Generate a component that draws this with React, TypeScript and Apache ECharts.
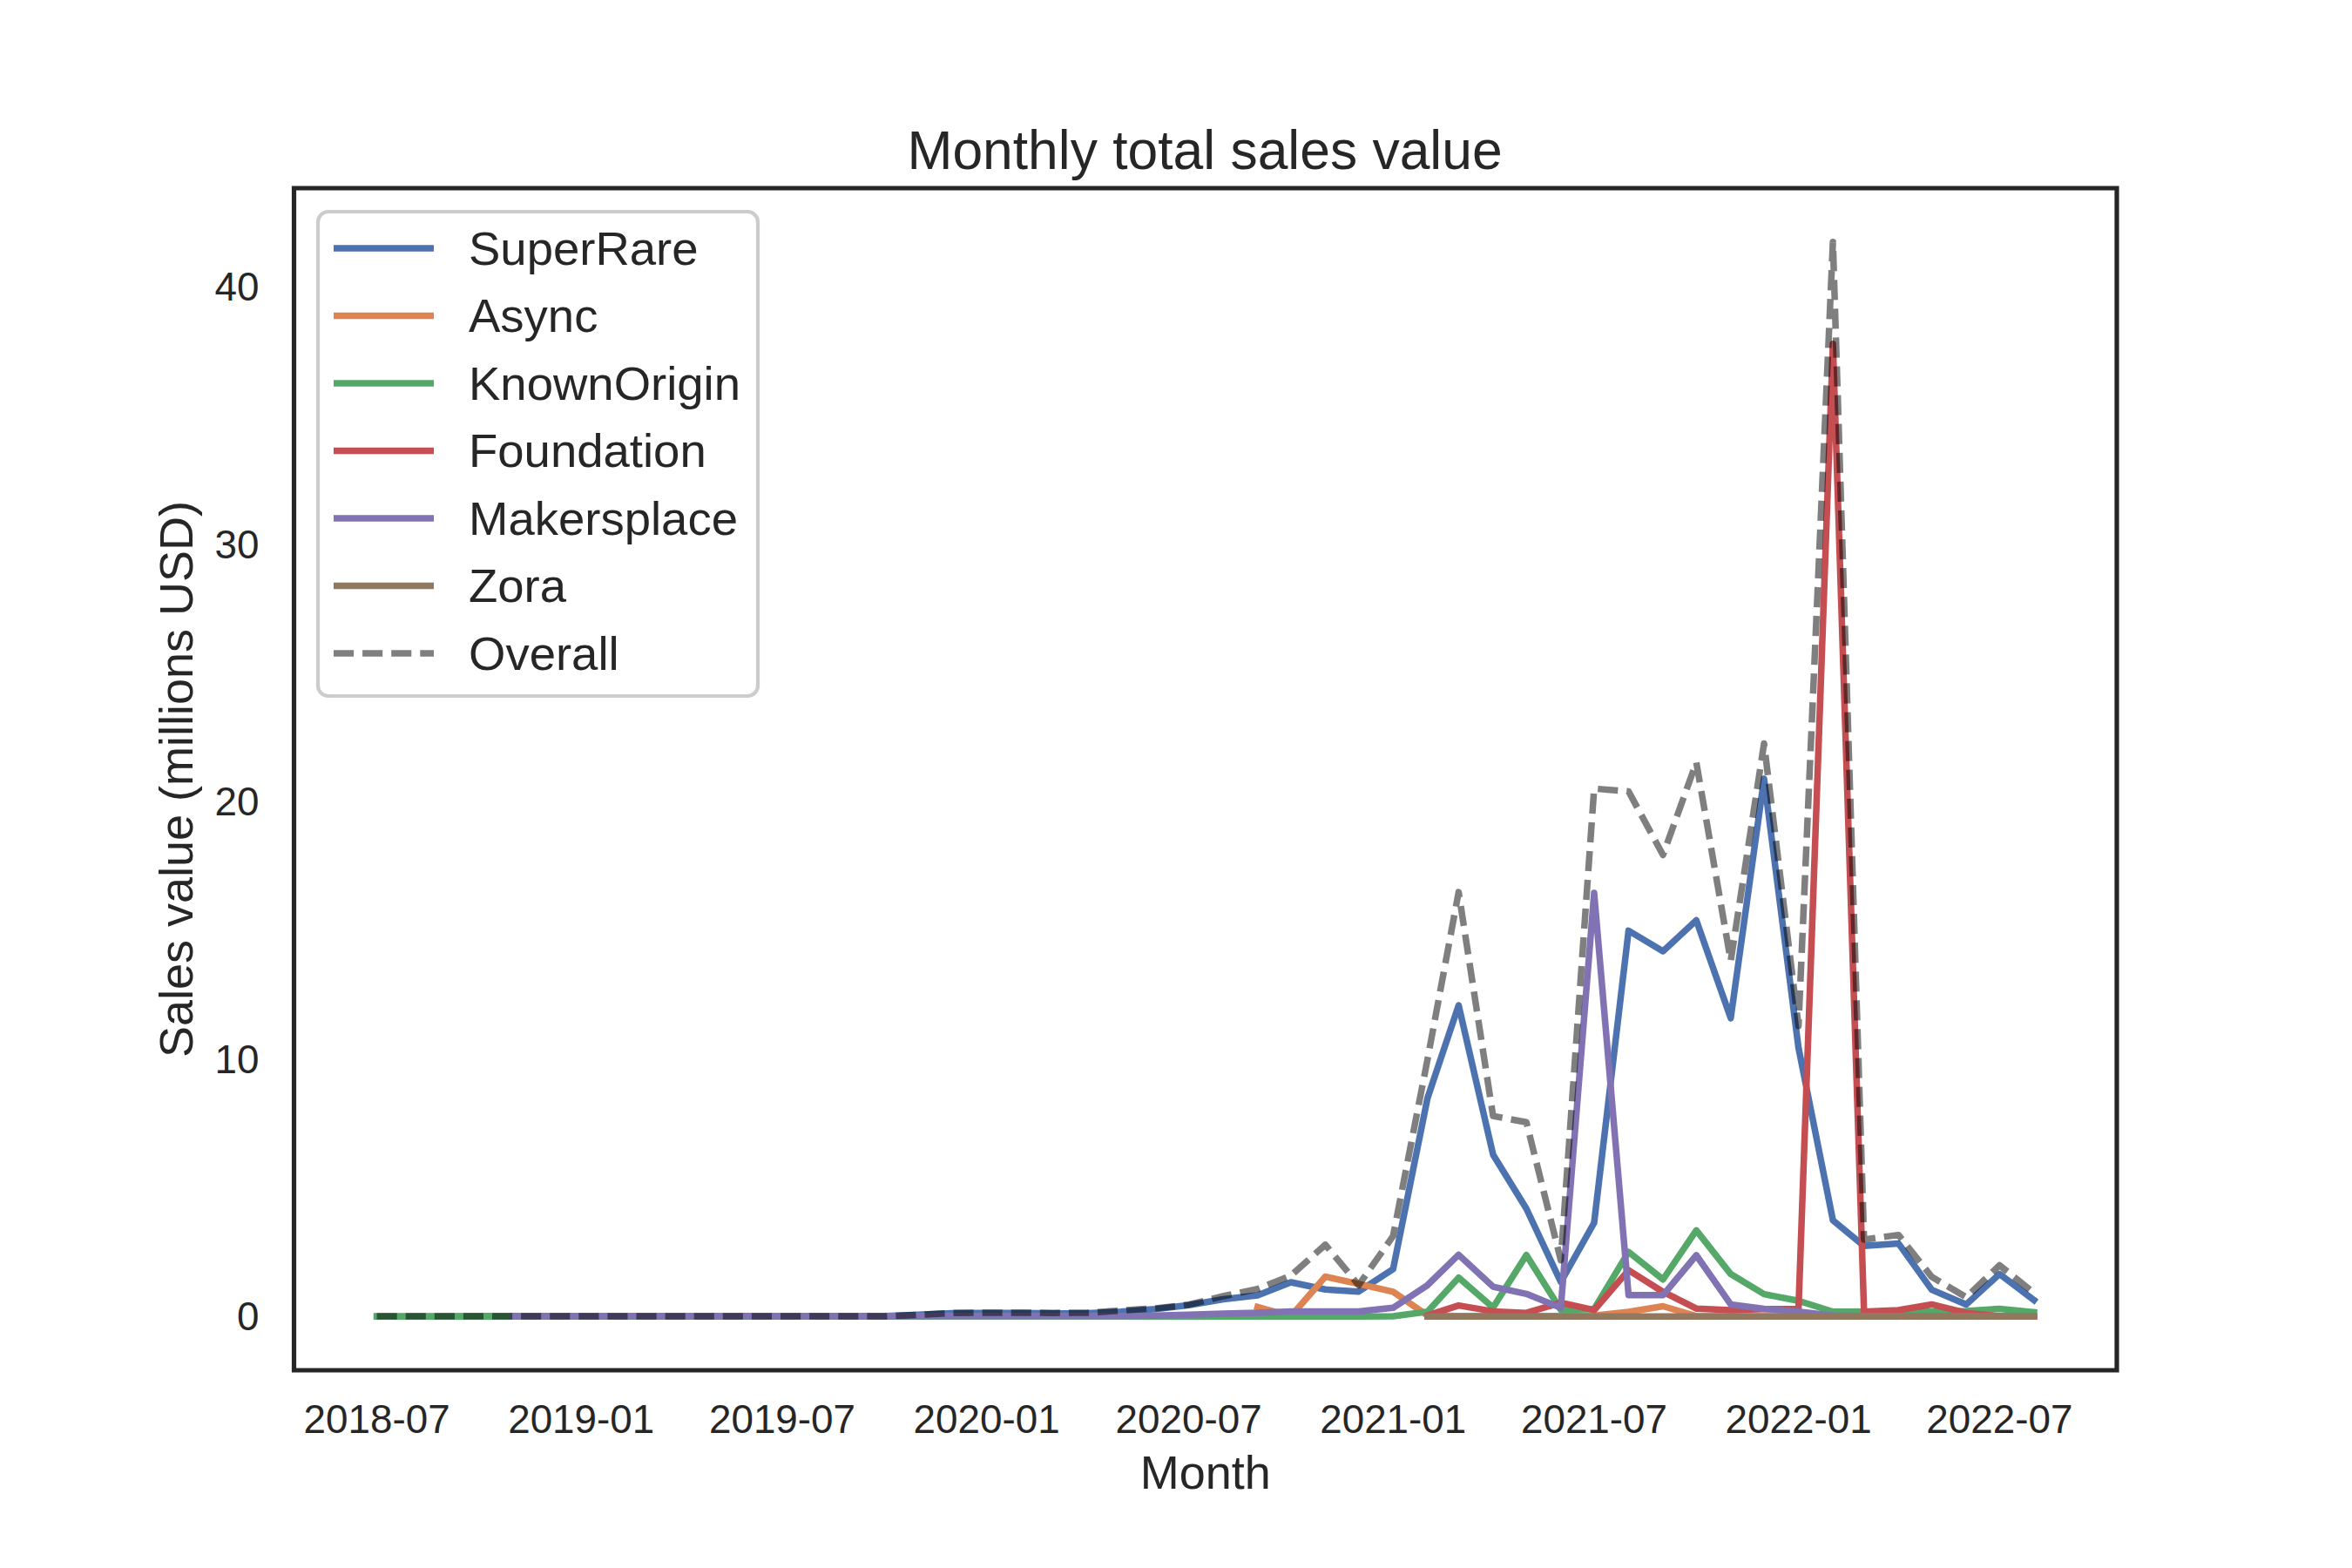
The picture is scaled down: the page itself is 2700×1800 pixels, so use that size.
import React, { useEffect, useRef } from "react";
import * as echarts from "echarts";

const months = [
  "2018-07", "2018-08", "2018-09", "2018-10", "2018-11", "2018-12",
  "2019-01", "2019-02", "2019-03", "2019-04", "2019-05", "2019-06",
  "2019-07", "2019-08", "2019-09", "2019-10", "2019-11", "2019-12",
  "2020-01", "2020-02", "2020-03", "2020-04", "2020-05", "2020-06",
  "2020-07", "2020-08", "2020-09", "2020-10", "2020-11", "2020-12",
  "2021-01", "2021-02", "2021-03", "2021-04", "2021-05", "2021-06",
  "2021-07", "2021-08", "2021-09", "2021-10", "2021-11", "2021-12",
  "2022-01", "2022-02", "2022-03", "2022-04", "2022-05", "2022-06",
  "2022-07", "2022-08",
];

const xTickLabels = ["2018-07", "2019-01", "2019-07", "2020-01", "2020-07", "2021-01", "2021-07", "2022-01", "2022-07"];
const yTickValues = [0, 10, 20, 30, 40];

const N = null;

const superRare = [
  0.01, 0.01, 0.01, 0.02, 0.02, 0.02, 0.02, 0.02, 0.02, 0.02, 0.02, 0.02,
  0.02, 0.02, 0.02, 0.03, 0.08, 0.14, 0.15, 0.15, 0.13, 0.14, 0.2, 0.3,
  0.45, 0.68, 0.83, 1.34, 1.06, 0.98, 1.85, 8.5, 12.1, 6.3, 4.2, 1.35,
  3.65, 15.0, 14.2, 15.4, 11.6, 20.9, 10.45, 3.75, 2.75, 2.85, 1.05, 0.48,
  1.66, 0.65,
];

const async = [
  N, N, N, N, N, N, N, N, N, N, N, N,
  N, N, N, N, N, N, N, N, N, N, N, N,
  N, N, 0.38, 0.02, 1.56, 1.28, 0.97, 0.05, 0.03, 0.03, 0.03, 0.03,
  0.05, 0.19, 0.41, 0.03, 0.02, 0.02, 0.02, 0.02, 0.02, 0.02, 0.02, 0.02,
  0.02, 0.02,
];

const knownOrigin = [
  0.01, 0.01, 0.01, 0.01, 0.01, 0.01, 0.01, 0.01, 0.01, 0.01, 0.01, 0.01,
  0.01, 0.01, 0.01, 0.01, 0.01, 0.01, 0.01, 0.01, 0.01, 0.01, 0.01, 0.01,
  0.01, 0.01, 0.01, 0.01, 0.01, 0.01, 0.02, 0.2, 1.52, 0.36, 2.4, 0.27,
  0.3, 2.52, 1.45, 3.36, 1.66, 0.88, 0.62, 0.2, 0.2, 0.2, 0.2, 0.22,
  0.31, 0.18,
];

const foundation = [
  N, N, N, N, N, N, N, N, N, N, N, N,
  N, N, N, N, N, N, N, N, N, N, N, N,
  N, N, N, N, N, N, N, 0.05, 0.44, 0.21, 0.15, 0.55,
  0.26, 1.81, 0.97, 0.32, 0.26, 0.3, 0.3, 37.8, 0.2, 0.26, 0.48, 0.15,
  0.02, 0.02,
];

const makersplace = [
  N, N, N, N, 0.02, 0.02, 0.02, 0.02, 0.02, 0.02, 0.02, 0.02,
  0.02, 0.02, 0.02, 0.02, 0.03, 0.03, 0.03, 0.03, 0.03, 0.03, 0.03, 0.05,
  0.08, 0.12, 0.16, 0.21, 0.21, 0.21, 0.35, 1.23, 2.41, 1.17, 0.89, 0.35,
  16.47, 0.84, 0.84, 2.39, 0.48, 0.31, 0.2, 0.05, 0.03, 0.03, 0.03, 0.03,
  0.03, 0.03,
];

const zora = [
  N, N, N, N, N, N, N, N, N, N, N, N,
  N, N, N, N, N, N, N, N, N, N, N, N,
  N, N, N, N, N, N, N, 0.01, 0.01, 0.01, 0.01, 0.01,
  0.01, 0.01, 0.01, 0.01, 0.01, 0.01, 0.01, 0.01, 0.01, 0.01, 0.01, 0.01,
  0.01, 0.01,
];

const overall = [
  0.02, 0.02, 0.02, 0.02, 0.02, 0.02, 0.02, 0.02, 0.02, 0.02, 0.02, 0.02,
  0.02, 0.02, 0.02, 0.02, 0.08, 0.15, 0.16, 0.16, 0.15, 0.16, 0.24, 0.33,
  0.47, 0.8, 1.08, 1.6, 2.8, 1.23, 3.14, 10.0, 16.5, 7.8, 7.56, 2.2,
  20.52, 20.41, 17.94, 21.54, 13.83, 22.27, 11.3, 41.76, 3.0, 3.18, 1.55, 0.76,
  2.0, 0.93,
];

const seriesNames = ["SuperRare", "Async", "KnownOrigin", "Foundation", "Makersplace", "Zora", "Overall"];
const seriesValues = [superRare, async, knownOrigin, foundation, makersplace, zora, overall];
const seriesColors = ["#4C72B0", "#DD8452", "#55A868", "#C44E52", "#8172B3", "#937860", "rgba(0,0,0,0.5)"];

const FONT = "Liberation Sans, Arial, sans-serif";
const TEXT = "#262626";

const toTs = (s: string) => Date.UTC(Number(s.slice(0, 4)), Number(s.slice(5, 7)) - 1, 1);

const DASH_ICON =
  "path://M0,0H23.1V7.5H0Z M33.1,0H56.2V7.5H33.1Z M66.2,0H89.3V7.5H66.2Z M99.3,0H115V7.5H99.3Z";

export default function App() {
  const ref = useRef<HTMLDivElement>(null);

  useEffect(() => {
    if (!ref.current) return;
    const chart = echarts.init(ref.current, undefined, { renderer: "svg" });

    const ts = months.map(toTs);
    const tickTs = xTickLabels.map(toTs);
    const xSpan = ts[ts.length - 1] - ts[0];
    const xMin = ts[0] - 0.05 * xSpan;
    const xMax = ts[ts.length - 1] + 0.05 * xSpan;

    const all: number[] = [];
    seriesValues.forEach((arr) => arr.forEach((v) => { if (v !== null) all.push(v as number); }));
    const dMin = Math.min(...all);
    const dMax = Math.max(...all);
    const ySpan = dMax - dMin;
    const yMin = dMin - 0.05 * ySpan;
    const yMax = dMax + 0.05 * ySpan;

    const LW = 7.5;

    const series = seriesNames.map((name, k) => {
      const data: [number, number][] = [];
      seriesValues[k].forEach((v, i) => { if (v !== null) data.push([ts[i], v as number]); });
      const dashed = name === "Overall";
      return {
        name,
        type: "line",
        data,
        symbol: "none",
        showSymbol: false,
        smooth: false,
        z: 2,
        lineStyle: {
          color: seriesColors[k],
          width: LW,
          type: dashed ? [23.1, 10] : "solid",
          cap: dashed ? "butt" : "square",
          join: "round",
        },
        itemStyle: { color: seriesColors[k] },
        emphasis: { disabled: true },
      };
    });

    const legendData = seriesNames.map((name) => ({
      name,
      icon: name === "Overall" ? DASH_ICON : "rect",
    }));

    const option: any = {
      animation: false,
      backgroundColor: "#ffffff",
      textStyle: { fontFamily: FONT, color: TEXT },
      grid: {
        left: 337.5,
        top: 216,
        right: 270,
        bottom: 227,
        show: true,
        borderColor: TEXT,
        borderWidth: 5.2,
        backgroundColor: "transparent",
        containLabel: false,
      },
      xAxis: {
        type: "value",
        min: xMin,
        max: xMax,
        name: "Month",
        nameLocation: "middle",
        nameGap: 90,
        nameTextStyle: { fontSize: 54, color: TEXT, fontFamily: FONT },
        axisLine: { show: false },
        axisTick: { show: false },
        splitLine: { show: false },
        axisLabel: {
          customValues: tickTs,
          formatter: (v: number) => {
            const idx = tickTs.indexOf(v);
            return idx >= 0 ? xTickLabels[idx] : "";
          },
          fontSize: 45.8,
          color: TEXT,
          fontFamily: FONT,
          margin: 33,
        },
      },
      yAxis: {
        type: "value",
        min: yMin,
        max: yMax,
        name: "Sales value (millions USD)",
        nameLocation: "middle",
        nameRotate: 90,
        nameGap: 109,
        nameTextStyle: { fontSize: 54, color: TEXT, fontFamily: FONT },
        axisLine: { show: false },
        axisTick: { show: false },
        splitLine: { show: false },
        axisLabel: {
          customValues: yTickValues,
          formatter: (v: number) => String(v),
          fontSize: 45.8,
          color: TEXT,
          fontFamily: FONT,
          margin: 40,
        },
      },
      legend: {
        orient: "vertical",
        left: 383,
        top: 257.5,
        padding: 0,
        itemWidth: 115,
        itemHeight: 7.5,
        itemGap: 22.5,
        selectedMode: false,
        data: legendData,
        textStyle: { fontSize: 54.5, color: TEXT, fontFamily: FONT, padding: [0, 0, 0, 35] },
        z: 5,
      },
      graphic: [
        {
          type: "rect",
          z: 4,
          shape: { x: 365, y: 243, width: 505, height: 556, r: 12 },
          style: { fill: "rgba(255,255,255,0.8)", stroke: "#cccccc", lineWidth: 4.2 },
          silent: true,
        },
        {
          type: "text",
          x: 1383,
          y: 172,
          style: {
            text: "Monthly total sales value",
            fontSize: 62.4,
            fontFamily: FONT,
            fill: TEXT,
            align: "center",
            verticalAlign: "middle",
          },
          silent: true,
        },
      ],
      series,
    };

    chart.setOption(option);
    return () => chart.dispose();
  }, []);

  return (
    <div
      ref={ref}
      style={{ position: "absolute", left: 0, top: 0, width: 2700, height: 1800, background: "#fff" }}
    />
  );
}
